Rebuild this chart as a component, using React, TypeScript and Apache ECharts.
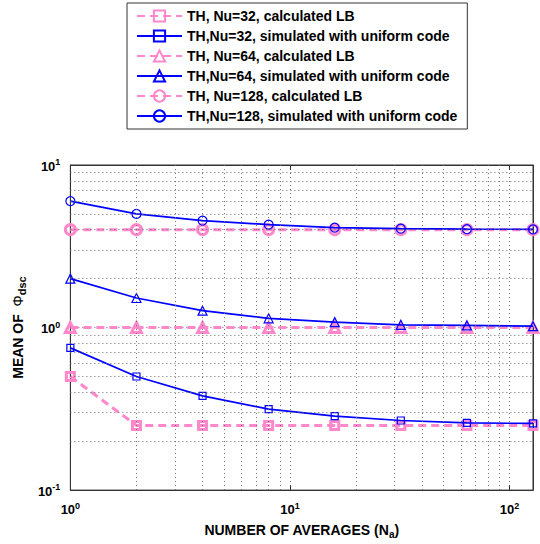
import React, { useEffect, useRef } from 'react';
import * as echarts from 'echarts';

// ---- data ----
const averages = [1, 2, 4, 8, 16, 32, 64, 128];
const lb32 = [0.5, 0.25, 0.25, 0.25, 0.25, 0.25, 0.25, 0.25];
const sim32 = [0.75, 0.5, 0.38, 0.315, 0.285, 0.268, 0.259, 0.257];
const lb64 = [1, 1, 1, 1, 1, 1, 1, 1];
const sim64 = [2.0, 1.52, 1.27, 1.14, 1.08, 1.04, 1.03, 1.02];
const lb128 = [4, 4, 4, 4, 4, 4, 4, 4];
const sim128 = [6.0, 5.0, 4.55, 4.3, 4.12, 4.06, 4.03, 4.02];
const seriesNames = [
  'TH, Nu=32, calculated LB',
  'TH,Nu=32, simulated with uniform code',
  'TH, Nu=64, calculated LB',
  'TH,Nu=64, simulated with uniform code',
  'TH, Nu=128, calculated LB',
  'TH,Nu=128, simulated with uniform code',
];
const xMinorGrid = [2, 3, 4, 5, 6, 7, 8, 9, 20, 30, 40, 50, 60, 70, 80, 90];
const yMinorGrid = [0.2, 0.3, 0.4, 0.5, 0.6, 0.7, 0.8, 0.9, 2, 3, 4, 5, 6, 7, 8, 9];
const xTitle = ['NUMBER OF AVERAGES (N', 'a', ')'];
const yTitle = ['MEAN OF  ', 'Φ', 'dsc'];

const FONT = '"Liberation Sans", Arial, Helvetica, sans-serif';
const PINK = '#ff88cc';
const BLUE = '#0000ff';
const GRID = '#6e6e6e';
const AXIS = '#333';
const CLEAR = 'rgba(255,255,255,0)';

const pairs = (ys: number[]) => averages.map((x, i) => [x, ys[i]]);

const powLabel = (v: number) => {
  const e = Math.log10(v);
  const r = Math.round(e);
  if (Math.abs(e - r) > 1e-6) return '';
  return `{b|10}{s|${r}}`;
};

const tickRich = {
  b: { fontSize: 13, fontWeight: 'bold', fontFamily: FONT, color: '#000', lineHeight: 15, verticalAlign: 'bottom' },
  s: { fontSize: 9, fontWeight: 'bold', fontFamily: FONT, color: '#000', lineHeight: 9, verticalAlign: 'top' },
};

const lbSeries = (name: string, ys: number[], symbol: string) => ({
  type: 'line',
  name,
  xAxisIndex: 0,
  yAxisIndex: 0,
  data: pairs(ys),
  symbol,
  symbolSize: symbol === 'rect' ? 8 : 10,
  showAllSymbol: true,
  lineStyle: { color: PINK, width: 3, type: [8, 5] },
  itemStyle: { color: CLEAR, borderColor: PINK, borderWidth: 3 },
  z: 3,
});

const simSeries = (name: string, ys: number[], symbol: string) => ({
  type: 'line',
  name,
  xAxisIndex: 0,
  yAxisIndex: 0,
  data: pairs(ys),
  symbol,
  symbolSize: symbol === 'rect' ? 7 : 9,
  showAllSymbol: true,
  lineStyle: { color: BLUE, width: 1.7 },
  itemStyle: { color: CLEAR, borderColor: BLUE, borderWidth: 1.2 },
  z: 4,
});

export default function App() {
  const ref = useRef<HTMLDivElement>(null);
  useEffect(() => {
    if (!ref.current) return;
    const chart = echarts.init(ref.current, undefined, { renderer: 'svg' });
    const gridLineStyle = { color: GRID, width: 1, type: [1, 3] as number[] };
    const boxAxis = {
      type: 'log',
      logBase: 10,
      axisLine: { show: true, lineStyle: { color: AXIS } },
      axisTick: { show: true, inside: true, length: 5, lineStyle: { color: AXIS } },
      axisLabel: { show: false },
      splitLine: { show: false },
    };
    chart.setOption({
      animation: false,
      backgroundColor: '#fff',
      textStyle: { fontFamily: FONT },
      grid: {
        show: true,
        left: 69,
        right: 7,
        top: 165,
        bottom: 50,
        borderColor: AXIS,
        borderWidth: 1,
        backgroundColor: 'transparent',
      },
      legend: {
        orient: 'vertical',
        left: 127,
        top: 3,
        data: seriesNames,
        itemWidth: 45,
        itemHeight: 14,
        itemGap: 6,
        padding: [6, 10, 6, 9],
        backgroundColor: '#fff',
        borderColor: AXIS,
        borderWidth: 1,
        selectedMode: false,
        textStyle: { fontSize: 14, fontWeight: 'bold', fontFamily: FONT, color: '#000' },
      },
      xAxis: [
        {
          type: 'log',
          logBase: 10,
          min: 1,
          max: 128,
          position: 'bottom',
          axisLine: { show: true, lineStyle: { color: AXIS } },
          axisTick: { show: true, inside: true, length: 5, lineStyle: { color: AXIS } },
          splitLine: { show: true, lineStyle: gridLineStyle },
          axisLabel: { formatter: powLabel, rich: tickRich, margin: 11, showMaxLabel: false },
          name: `{t|${xTitle[0]}}{sub|${xTitle[1]}}{t|${xTitle[2]}}`,
          nameLocation: 'middle',
          nameGap: 28,
          nameTextStyle: {
            rich: {
              t: { fontSize: 14, fontWeight: 'bold', fontFamily: FONT, color: '#000', lineHeight: 16 },
              sub: { fontSize: 10, fontWeight: 'bold', fontFamily: FONT, color: '#000', lineHeight: 10, padding: [8, 0, 0, 0] },
            },
          },
        },
        { ...boxAxis, min: 1, max: 128, position: 'top' },
      ],
      yAxis: [
        {
          type: 'log',
          logBase: 10,
          min: 0.1,
          max: 10,
          position: 'left',
          axisLine: { show: true, lineStyle: { color: AXIS } },
          axisTick: { show: true, inside: true, length: 5, lineStyle: { color: AXIS } },
          splitLine: { show: true, lineStyle: gridLineStyle },
          axisLabel: { formatter: powLabel, rich: tickRich, margin: 10 },
          name: `{t|${yTitle[0]}}{phi|${yTitle[1]}}{sub|${yTitle[2]}}`,
          nameLocation: 'middle',
          nameRotate: 90,
          nameGap: 39,
          nameTextStyle: {
            rich: {
              t: { fontSize: 14, fontWeight: 'bold', fontFamily: FONT, color: '#000', lineHeight: 16 },
              phi: { fontSize: 14, fontWeight: 'normal', fontFamily: FONT, color: '#000', lineHeight: 16 },
              sub: { fontSize: 11, fontWeight: 'bold', fontFamily: FONT, color: '#000', lineHeight: 11, padding: [8, 0, 0, 0] },
            },
          },
        },
        { ...boxAxis, min: 0.1, max: 10, position: 'right' },
      ],
      series: [
        {
          type: 'line',
          name: 'grid',
          xAxisIndex: 0,
          yAxisIndex: 0,
          data: [],
          silent: true,
          z: 1,
          markLine: {
            silent: true,
            symbol: ['none', 'none'],
            label: { show: false },
            lineStyle: gridLineStyle,
            data: [
              ...xMinorGrid.map((v) => ({ xAxis: v })),
              ...yMinorGrid.map((v) => ({ yAxis: v })),
            ],
          },
        },
        lbSeries(seriesNames[0], lb32, 'rect'),
        simSeries(seriesNames[1], sim32, 'rect'),
        lbSeries(seriesNames[2], lb64, 'triangle'),
        simSeries(seriesNames[3], sim64, 'triangle'),
        lbSeries(seriesNames[4], lb128, 'circle'),
        simSeries(seriesNames[5], sim128, 'circle'),
      ],
    });
    return () => chart.dispose();
  }, []);
  return (
    <div
      ref={ref}
      style={{ position: 'absolute', left: 0, top: 0, width: 540, height: 544, background: '#fff' }}
    />
  );
}
